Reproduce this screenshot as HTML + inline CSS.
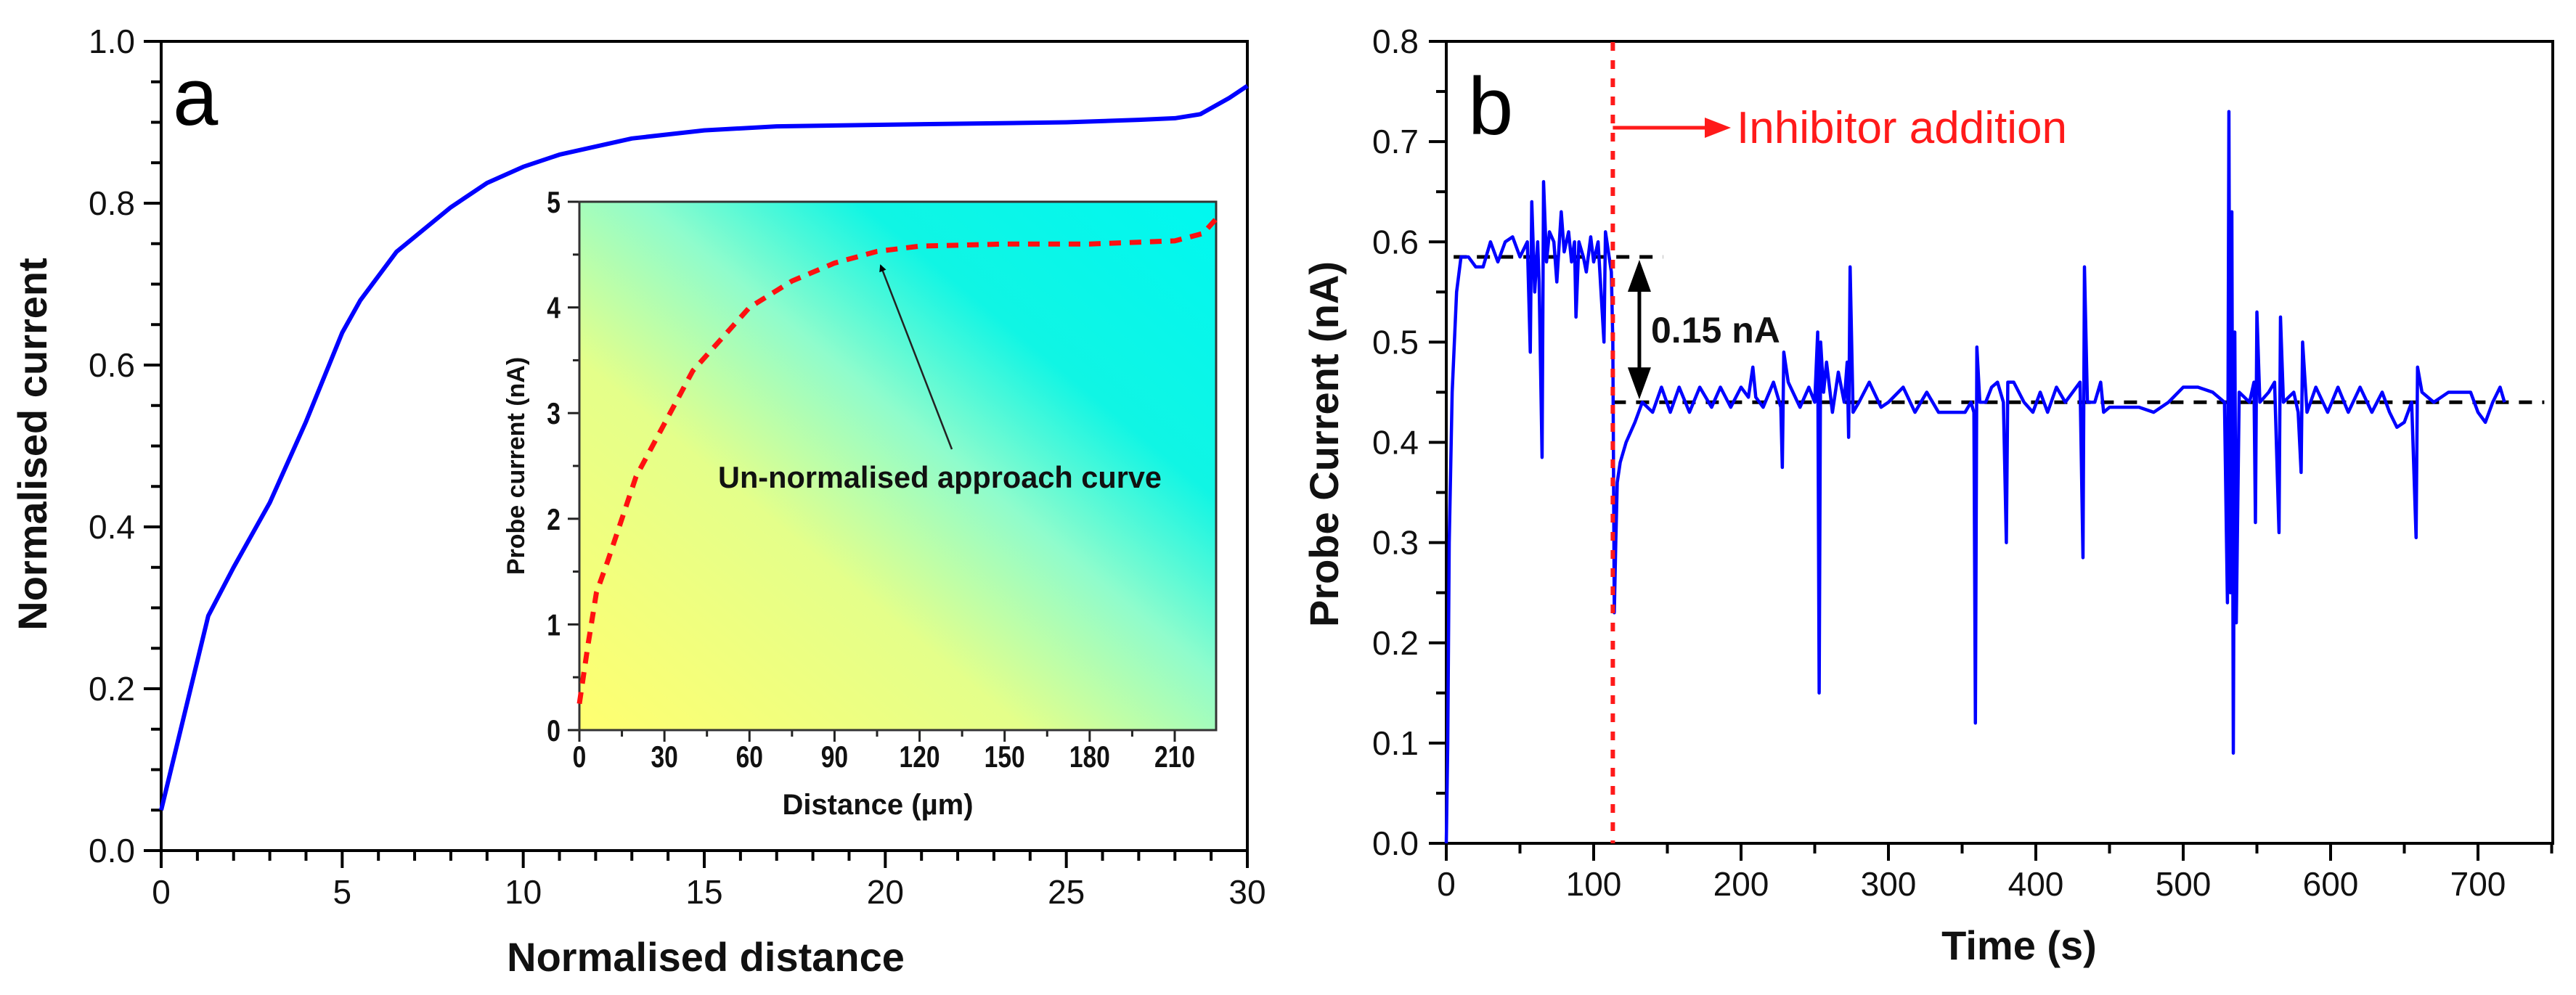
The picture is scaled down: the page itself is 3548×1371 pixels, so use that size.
<!DOCTYPE html>
<html><head><meta charset="utf-8"><style>
html,body{margin:0;padding:0;background:#fff;}
svg{display:block;font-family:"Liberation Sans",Arial,sans-serif;}
</style></head><body>
<svg id="fig" width="3548" height="1371" viewBox="0 0 3548 1371" xmlns="http://www.w3.org/2000/svg">
<defs>
<linearGradient id="insetGrad" x1="0" y1="1" x2="1" y2="0">
<stop offset="0" stop-color="#ffff70"/>
<stop offset="0.35" stop-color="#e4ff8a"/>
<stop offset="0.55" stop-color="#8ffccc"/>
<stop offset="0.72" stop-color="#10f5e4"/>
<stop offset="1" stop-color="#00f8f0"/>
</linearGradient>
<marker id="arrBlack" markerWidth="10" markerHeight="10" refX="8" refY="5" orient="auto" markerUnits="userSpaceOnUse"><path d="M0,0 L10,5 L0,10 z" fill="#000"/></marker>
</defs>
<g id="panelA"></g>
<g id="panelB"></g>
</svg>
<script>
// ---------- Panel a data ----------
const aDist = [0,1.3,2,3,4,5,5.5,6.5,8,9,10,11,12,13,15,17,20,25,27,28,28.7,29.5,30];
const aCurr = [0.05,0.29,0.35,0.43,0.53,0.64,0.68,0.74,0.795,0.825,0.845,0.86,0.87,0.88,0.89,0.895,0.897,0.9,0.903,0.905,0.91,0.93,0.945];
const aXTicks = [0,5,10,15,20,25,30];
const aYTicks = [0,0.2,0.4,0.6,0.8,1.0];
const aYTickLabels = ["0.0","0.2","0.4","0.6","0.8","1.0"];
// inset data
const inDist = [0,3,6,10,15,20,30,40,50,60,75,90,105,120,150,180,210,220,225];
const inCurr = [0.25,0.8,1.3,1.6,2.0,2.4,2.9,3.4,3.7,4.0,4.25,4.42,4.53,4.58,4.6,4.6,4.63,4.7,4.85];
const inXTicks = [0,30,60,90,120,150,180,210];
const inYTicks = [0,1,2,3,4,5];
// ---------- Panel b data ----------
const bTime = [0,1,2,4,7,10,15,20,25,30,35,40,45,50,55,57,58,60,62,63,65,66,68,70,73,75,78,80,83,85,87,88,90,93,95,98,100,103,105,107,108,110,112,113,114,115,116,118,122,128,133,140,146,152,158,165,172,180,186,193,200,205,208,210,215,222,227,228,229,232,240,246,250,252,253,254,256,258,262,266,270,272,273,274,276,280,287,295,300,310,318,326,334,345,352,356,358,359,360,362,366,370,374,378,380,381,385,392,398,403,408,414,420,425,430,432,433,435,440,444,446,450,460,470,480,490,500,510,520,528,530,531,532,533,534,535,536,538,545,548,549,550,552,558,562,565,566,568,575,578,580,581,584,590,598,605,612,620,628,635,640,645,650,655,658,659,662,670,680,690,695,700,705,710,715,718];
const bCurr = [0,0.1,0.3,0.45,0.55,0.585,0.585,0.575,0.575,0.6,0.58,0.6,0.605,0.585,0.6,0.49,0.64,0.55,0.6,0.56,0.385,0.66,0.58,0.61,0.6,0.56,0.63,0.59,0.61,0.58,0.6,0.525,0.6,0.585,0.57,0.605,0.58,0.6,0.55,0.5,0.61,0.59,0.57,0.5,0.23,0.3,0.36,0.38,0.4,0.42,0.44,0.43,0.455,0.43,0.455,0.43,0.455,0.435,0.455,0.435,0.455,0.445,0.475,0.445,0.435,0.46,0.435,0.375,0.49,0.46,0.435,0.455,0.44,0.51,0.15,0.5,0.45,0.48,0.43,0.47,0.44,0.48,0.405,0.575,0.43,0.44,0.46,0.435,0.44,0.455,0.43,0.45,0.43,0.43,0.43,0.44,0.43,0.12,0.495,0.44,0.44,0.455,0.46,0.44,0.3,0.46,0.46,0.44,0.43,0.45,0.43,0.455,0.44,0.45,0.46,0.285,0.575,0.44,0.44,0.46,0.43,0.435,0.435,0.435,0.43,0.44,0.455,0.455,0.45,0.44,0.24,0.73,0.25,0.63,0.09,0.51,0.22,0.45,0.44,0.46,0.32,0.53,0.44,0.45,0.46,0.31,0.525,0.44,0.45,0.43,0.37,0.5,0.43,0.455,0.43,0.455,0.43,0.455,0.43,0.45,0.43,0.415,0.42,0.44,0.305,0.475,0.45,0.44,0.45,0.45,0.45,0.43,0.42,0.44,0.455,0.44];
const bXTicks = [0,100,200,300,400,500,600,700];
const bYTicks = [0,0.1,0.2,0.3,0.4,0.5,0.6,0.7,0.8];
const bYTickLabels = ["0.0","0.1","0.2","0.3","0.4","0.5","0.6","0.7","0.8"];
const bLevelBefore = 0.585, bLevelAfter = 0.44, bInhibitorTime = 113;

const NS = "http://www.w3.org/2000/svg";
function mk(tag, attrs, parent, text){
  const e = document.createElementNS(NS, tag);
  for (const k in attrs) e.setAttribute(k, attrs[k]);
  if (text !== undefined) e.textContent = text;
  parent.appendChild(e);
  return e;
}
function lin(d0,d1,r0,r1){ return v => r0 + (v-d0)/(d1-d0)*(r1-r0); }

// ================= Panel a =================
const A = document.getElementById('panelA');
const ax = lin(0,30,222,1718), ay = lin(0,1,1172,57);
for (let i=0;i<=30;i++){
  const t = mk('line',{x1:ax(i),y1:1172,x2:ax(i),y2:(i%5===0)?1196:1186,stroke:'#000','stroke-width':4},A);
  
  
}
for (let i=0;i<=20;i++){
  const v=i*0.05;
  const t = mk('line',{x1:222,y1:ay(v),x2:(i%4===0)?198:208,y2:ay(v),stroke:'#000','stroke-width':4},A);
  
  
}
aXTicks.forEach(v=>{
  const t = mk('text',{x:ax(v),y:1245,'font-size':46,'text-anchor':'middle',fill:'#111'},A,String(v));
  
  
});
aYTicks.forEach((v,i)=>{
  const t = mk('text',{x:186,y:ay(v)+16,'font-size':46,'text-anchor':'end',fill:'#111'},A,aYTickLabels[i]);
  
  
});
{
  const f = mk('rect',{x:222,y:57,width:1496,height:1115,fill:'none',stroke:'#000','stroke-width':4},A);
   
  const p = mk('polyline',{points:aDist.map((d,i)=>ax(d)+','+ay(aCurr[i])).join(' '),fill:'none',stroke:'#0000ff','stroke-width':6,'stroke-linejoin':'round'},A);
   
  const l = mk('text',{x:238,y:172,'font-size':112,fill:'#000'},A,'a');
   
  const xt = mk('text',{x:972,y:1338,'font-size':56,'font-weight':'bold','text-anchor':'middle',fill:'#111'},A,'Normalised distance');
   
  const yt = mk('text',{x:0,y:0,'font-size':56,'font-weight':'bold','text-anchor':'middle',fill:'#111',transform:'translate(64,612) rotate(-90)'},A,'Normalised current');
   
}
// ---- inset ----
const I = mk('g',{},A);
 
const ix = lin(0,224.6,798,1675), iy = lin(0,5,1006,278);
{
  const bg = mk('rect',{x:798,y:278,width:877,height:728,fill:'url(#insetGrad)'},I);
   
}
for (let v=0; v<=224; v+=15){
  const t = mk('line',{x1:ix(v),y1:1006,x2:ix(v),y2:(v%30===0)?1022:1015,stroke:'#222','stroke-width':3},I);
   
}
for (let v=0; v<=5; v+=0.5){
  const t = mk('line',{x1:798,y1:iy(v),x2:(Math.abs(v%1)<1e-9)?782:789,y2:iy(v),stroke:'#222','stroke-width':3},I);
   
}
inXTicks.forEach(v=>{
  const t = mk('text',{x:ix(v),y:1057,'font-size':42,'font-weight':'bold','text-anchor':'middle',fill:'#111',transform:`translate(${ix(v)},0) scale(0.8,1) translate(${-ix(v)},0)`},I,String(v));
   
});
inYTicks.forEach(v=>{
  const t = mk('text',{x:772,y:iy(v)+15,'font-size':42,'font-weight':'bold','text-anchor':'end',fill:'#111',transform:`translate(772,0) scale(0.8,1) translate(-772,0)`},I,String(v));
   
});
{
  const f = mk('rect',{x:798,y:278,width:877,height:728,fill:'none',stroke:'#333','stroke-width':3},I);
   
  const c = mk('polyline',{points:inDist.map((d,i)=>ix(d)+','+iy(inCurr[i])).join(' '),fill:'none',stroke:'#ff1010','stroke-width':7,'stroke-dasharray':'16 12'},I);
   
  const xt = mk('text',{x:1209,y:1122,'font-size':40,'font-weight':'bold','text-anchor':'middle',fill:'#111'},I,'Distance (µm)');
   
  const yt = mk('text',{x:0,y:0,'font-size':34,'font-weight':'bold','text-anchor':'middle',fill:'#111',transform:'translate(722,642) rotate(-90)'},I,'Probe current (nA)');
   
  const an = mk('text',{x:989,y:672,'font-size':42,'font-weight':'bold',fill:'#111',textLength:611,lengthAdjust:'spacingAndGlyphs'},I,'Un-normalised approach curve');
   
  const ar = mk('line',{x1:1311,y1:619,x2:1213,y2:366,stroke:'#222','stroke-width':2.5,'marker-end':'url(#arrBlack)'},I);
   
}

// ================= Panel b =================
const B = document.getElementById('panelB');
const bx = lin(0,700,1992,3413), by = lin(0,0.8,1162,57);
for (let v=0; v<=750; v+=50){
  const t = mk('line',{x1:bx(v),y1:1162,x2:bx(v),y2:(v%100===0)?1186:1176,stroke:'#000','stroke-width':4},B);
   
}
for (let i=0;i<=16;i++){
  const v=i*0.05;
  const t = mk('line',{x1:1992,y1:by(v),x2:(i%2===0)?1968:1978,y2:by(v),stroke:'#000','stroke-width':4},B);
   
}
bXTicks.forEach(v=>{
  const t = mk('text',{x:bx(v),y:1234,'font-size':46,'text-anchor':'middle',fill:'#111'},B,String(v));
   
});
bYTicks.forEach((v,i)=>{
  const t = mk('text',{x:1954,y:by(v)+16,'font-size':46,'text-anchor':'end',fill:'#111'},B,bYTickLabels[i]);
   
});
{
  const f = mk('rect',{x:1992,y:57,width:1524,height:1105,fill:'none',stroke:'#000','stroke-width':4},B);
   
  const d1 = mk('line',{x1:bx(5),y1:by(bLevelBefore),x2:bx(147),y2:by(bLevelBefore),stroke:'#000','stroke-width':5,'stroke-dasharray':'18 14'},B);
   
  const d2 = mk('line',{x1:bx(bInhibitorTime),y1:by(bLevelAfter),x2:bx(745),y2:by(bLevelAfter),stroke:'#000','stroke-width':5,'stroke-dasharray':'18 14'},B);
   
  const p = mk('polyline',{points:bTime.map((t,i)=>bx(t)+','+by(bCurr[i])).join(' '),fill:'none',stroke:'#0000ff','stroke-width':4.5,'stroke-linejoin':'round'},B);
   
  const rv = mk('line',{x1:bx(bInhibitorTime),y1:58,x2:bx(bInhibitorTime),y2:1162,stroke:'#ff1a1a','stroke-width':6,'stroke-dasharray':'12 13'},B);
   
  const ra = mk('line',{x1:bx(bInhibitorTime),y1:176,x2:2360,y2:176,stroke:'#ff1a1a','stroke-width':5},B);
   
  const rh = mk('path',{d:'M2348,162 L2384,176 L2348,190 Z',fill:'#ff1a1a'},B);
   
  const rt = mk('text',{x:2392,y:197,'font-size':62,fill:'#ff1a1a'},B,'Inhibitor addition');
   
  const ax2 = bx(131);
  const dl = mk('line',{x1:ax2,y1:by(bLevelBefore)+40,x2:ax2,y2:by(bLevelAfter)-40,stroke:'#000','stroke-width':5},B);
   
  const h1 = mk('path',{d:`M${ax2-16},${by(bLevelBefore)+48} L${ax2},${by(bLevelBefore)+4} L${ax2+16},${by(bLevelBefore)+48} Z`,fill:'#000'},B);
   
  const h2 = mk('path',{d:`M${ax2-16},${by(bLevelAfter)-48} L${ax2},${by(bLevelAfter)-4} L${ax2+16},${by(bLevelAfter)-48} Z`,fill:'#000'},B);
   
  const dt = mk('text',{x:2274,y:472,'font-size':50,'font-weight':'bold',fill:'#111'},B,'0.15 nA');
   
  const l = mk('text',{x:2022,y:185,'font-size':112,fill:'#000'},B,'b');
   
  const xt = mk('text',{x:2781,y:1322,'font-size':56,'font-weight':'bold','text-anchor':'middle',fill:'#111'},B,'Time (s)');
   
  const yt = mk('text',{x:0,y:0,'font-size':56,'font-weight':'bold','text-anchor':'middle',fill:'#111',transform:'translate(1843,612) rotate(-90)'},B,'Probe Current (nA)');
   
}
</script>
</body></html>
